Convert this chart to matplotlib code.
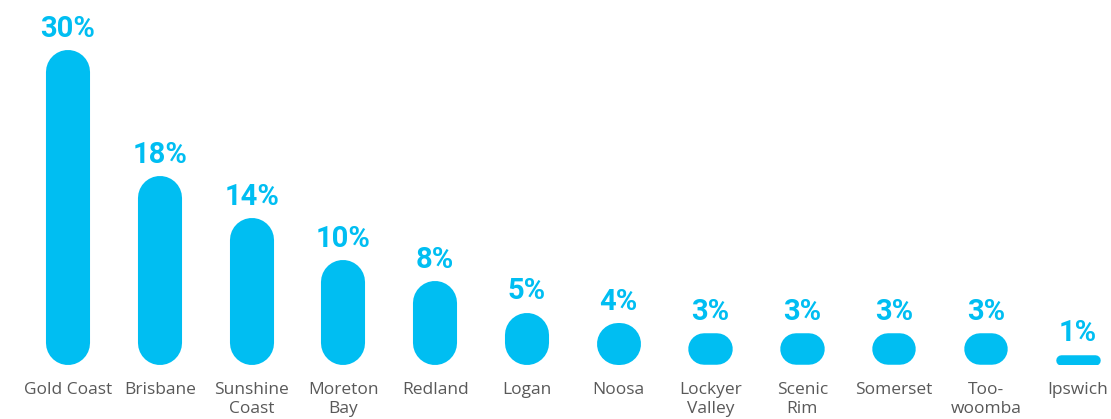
import numpy as np
import matplotlib.pyplot as plt

# data
regions = ["Gold Coast", "Brisbane", "Sunshine\nCoast", "Moreton\nBay", "Redland",
           "Logan", "Noosa", "Lockyer\nValley", "Scenic\nRim", "Somerset",
           "Too-\nwoomba", "Ipswich"]
shares = [30, 18, 14, 10, 8, 5, 4, 3, 3, 3, 3, 1]

CYAN = "#00BEF2"
GREY = "#595959"
BAR_W = 0.48
DPI = 100

fig = plt.figure(figsize=(11.11, 4.19), dpi=DPI)
ax = fig.add_axes([0, 54 / 419, 1, 365 / 419])
ax.set_xlim(-0.741, 11.362)
ax.set_ylim(0, 34.76)
for s in ax.spines.values():
    s.set_visible(False)
ax.set_yticks([])

# pixels per data unit in each direction
fig.canvas.draw()
(x0, y0), (x1, y1) = ax.transData.transform([(0, 0), (1, 1)])
px_x, px_y = x1 - x0, y1 - y0
pt = 72 / DPI

xs = np.arange(len(regions))
for x, v in zip(xs, shares):
    w_px = BAR_W * px_x
    h_px = v * px_y
    if h_px >= w_px:
        # vertical pill: round-capped thick line
        r = (w_px / 2) / px_y
        ax.plot([x, x], [r, v - r], color=CYAN, lw=w_px * pt,
                solid_capstyle="round")
    else:
        # short bar: horizontal pill
        half = ((w_px - h_px) / 2) / px_x
        ax.plot([x - half, x + half], [v / 2, v / 2], color=CYAN,
                lw=h_px * pt, solid_capstyle="round")
    ax.annotate(f"{v}%", (x, v), xytext=(0, 9.4), textcoords="offset points",
                ha="center", va="baseline", color=CYAN, fontsize=21,
                fontweight="bold", family="Roboto")

ax.set_xticks(xs)
ax.set_xticklabels(regions, color=GREY, fontsize=12.5, family="Open Sans",
                   linespacing=1.3)
ax.tick_params(axis="x", length=0, pad=12)

fig.savefig("out.png", dpi=DPI, facecolor="white")
